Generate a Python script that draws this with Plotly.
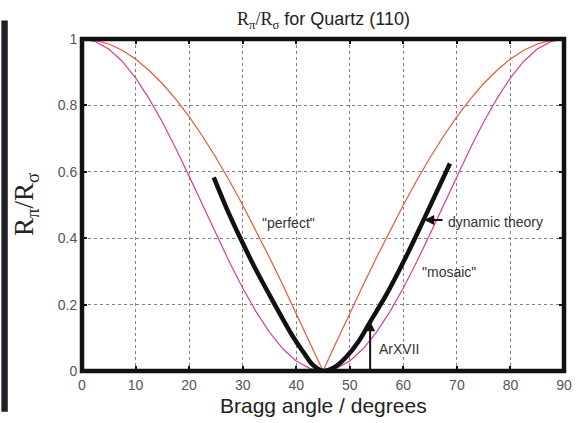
import plotly.graph_objects as go

# Bragg angle grid (degrees) for the two simple curves
theta = [0, 2.5, 5, 7.5, 10, 12.5, 15, 17.5, 20, 22.5, 25, 27.5, 30, 32.5, 35, 37.5, 40, 42.5, 45,
         47.5, 50, 52.5, 55, 57.5, 60, 62.5, 65, 67.5, 70, 72.5, 75, 77.5, 80, 82.5, 85, 87.5, 90]
perfect = [1.000, 0.996, 0.985, 0.966, 0.940, 0.906, 0.866, 0.819, 0.766, 0.707, 0.643, 0.574, 0.500,
           0.423, 0.342, 0.259, 0.174, 0.087, 0.000,
           0.087, 0.174, 0.259, 0.342, 0.423, 0.500, 0.574, 0.643, 0.707, 0.766, 0.819, 0.866,
           0.906, 0.940, 0.966, 0.985, 0.996, 1.000]
mosaic = [1.000, 0.992, 0.970, 0.933, 0.883, 0.821, 0.750, 0.671, 0.587, 0.500, 0.413, 0.329, 0.250,
          0.179, 0.117, 0.067, 0.030, 0.008, 0.000,
          0.008, 0.030, 0.067, 0.117, 0.179, 0.250, 0.329, 0.413, 0.500, 0.587, 0.671, 0.750,
          0.821, 0.883, 0.933, 0.970, 0.992, 1.000]

# dynamic theory curve
dyn_x = [24.6, 27, 29.6, 32.5, 36, 39.4, 41.5, 43, 45, 47.3, 49.5, 51.6, 53.8, 56.8, 60.2, 63.9, 68.7]
dyn_y = [0.583, 0.49, 0.399, 0.304, 0.2, 0.103, 0.053, 0.02, 0.0, 0.013, 0.045, 0.088, 0.148, 0.229,
         0.334, 0.459, 0.625]

x_ticks = [0, 10, 20, 30, 40, 50, 60, 70, 80, 90]
y_ticks = [0, 0.2, 0.4, 0.6, 0.8, 1]
y_tick_labels = ["0", "0.2", "0.4", "0.6", "0.8", "1"]

SANS = "Liberation Sans, Arial, sans-serif"
SERIF = "Liberation Serif, Times New Roman, serif"

fig = go.Figure()
fig.add_trace(go.Scatter(x=theta, y=perfect, mode="lines",
                         line=dict(color="#e8583c", width=1.2), hoverinfo="skip"))
fig.add_trace(go.Scatter(x=theta, y=mosaic, mode="lines",
                         line=dict(color="#d63fa6", width=1.2), hoverinfo="skip"))
fig.add_trace(go.Scatter(x=dyn_x, y=dyn_y, mode="lines", line_shape="spline",
                         line=dict(color="#111111", width=4.5), hoverinfo="skip"))

axis_common = dict(showline=True, linewidth=2, linecolor="#111111", mirror="ticks",
                   ticks="inside", ticklen=5, tickwidth=2, tickcolor="#111111",
                   showgrid=True, gridcolor="#808080", griddash="dot", gridwidth=1,
                   zeroline=False,
                   tickfont=dict(family=SANS, size=14, color="#555555"))

fig.update_xaxes(range=[0, 90], tickvals=x_ticks, ticktext=[str(v) for v in x_ticks], **axis_common)
fig.update_yaxes(range=[0, 1], tickvals=y_ticks, ticktext=y_tick_labels, **axis_common)

# thick frame around the plot area
fig.add_shape(type="rect", xref="paper", yref="paper", x0=0, x1=1, y0=0, y1=1,
              line=dict(color="#111111", width=4.5), fillcolor="rgba(0,0,0,0)", layer="above")

# left dark bar
fig.add_shape(type="rect", xref="paper", yref="paper", x0=-0.1673, x1=-0.154, y0=-0.123, y1=1.056,
              fillcolor="#1c1f26", line=dict(width=0), layer="above")

annotations = [
    dict(text='<span style="font-family:Liberation Serif">R<sub>π</sub>/R<sub>σ</sub></span> for Quartz (110)',
         xref="paper", yref="paper", x=0.5, y=1.055, xanchor="center", yanchor="middle",
         showarrow=False, font=dict(family=SANS, size=18, color="#222222")),
    dict(text="R<sub>π</sub>/R<sub>σ</sub>", xref="paper", yref="paper", x=-0.116, y=0.5,
         textangle=-90, xanchor="center", yanchor="middle", showarrow=False,
         font=dict(family=SERIF, size=27, color="#222222")),
    dict(text="Bragg angle / degrees", xref="paper", yref="paper", x=0.5, y=-0.105,
         xanchor="center", yanchor="middle", showarrow=False,
         font=dict(family=SANS, size=21, color="#222222")),
    dict(text='"perfect"', x=38.6, y=0.445, showarrow=False,
         font=dict(family=SANS, size=14, color="#333333")),
    dict(text='"mosaic"', x=68.6, y=0.298, showarrow=False,
         font=dict(family=SANS, size=14, color="#333333")),
    dict(text="dynamic theory", x=67.9, y=0.45, xanchor="left", showarrow=False,
         font=dict(family=SANS, size=14, color="#333333")),
    dict(text="ArXVII", x=55.0, y=0.066, xanchor="left", showarrow=False,
         font=dict(family=SANS, size=14, color="#333333")),
    dict(text="", x=63.9, y=0.455, ax=67.6, ay=0.455, axref="x", ayref="y", xref="x", yref="y",
         showarrow=True, arrowhead=2, arrowsize=1, arrowwidth=2, arrowcolor="#111111"),
    dict(text="", x=53.8, y=0.15, ax=53.8, ay=0.0, axref="x", ayref="y", xref="x", yref="y",
         showarrow=True, arrowhead=2, arrowsize=1, arrowwidth=2, arrowcolor="#111111"),
]

fig.update_layout(width=582, height=423, margin=dict(l=82, r=10, t=39, b=52),
                  paper_bgcolor="white", plot_bgcolor="white", showlegend=False,
                  annotations=annotations)

fig.write_html("out.html")
